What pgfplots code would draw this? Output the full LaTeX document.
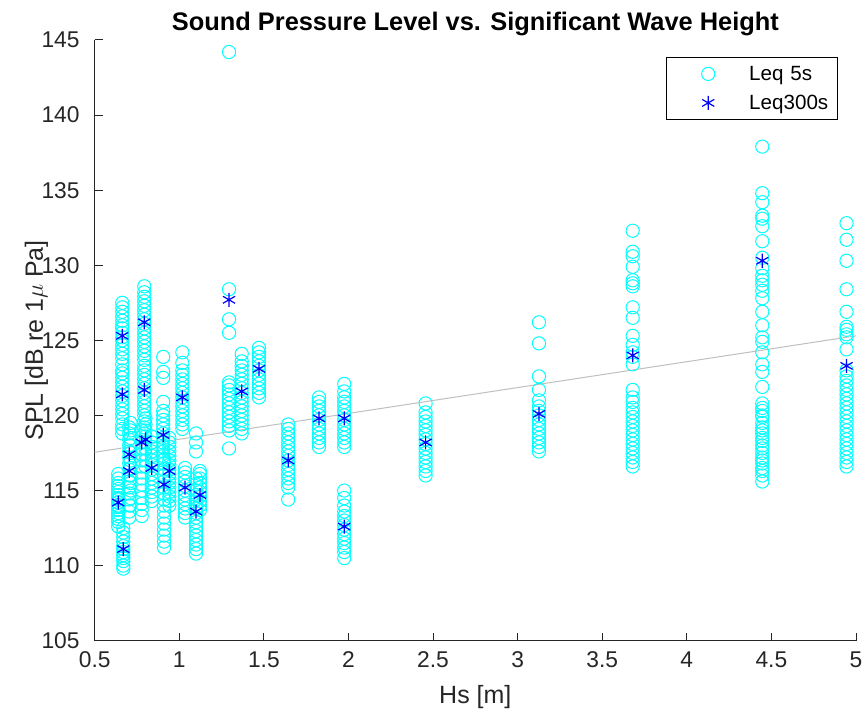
\documentclass[border=0pt]{standalone}
\usepackage{pgfplots}
\pgfplotsset{compat=1.18}
\usepackage{fontspec}
\setmainfont{Liberation Sans}
\definecolor{axgray}{rgb}{0.15,0.15,0.15}
\definecolor{trend}{rgb}{0.75,0.75,0.75}
\definecolor{mcyan}{rgb}{0,1,1}
\definecolor{mblue}{rgb}{0,0,1}
\begin{document}
\begin{tikzpicture}
\begin{axis}[
  name=ax,
  scale only axis, width=380.65pt, height=300.35pt,
  xmin=0.5, xmax=5, ymin=105, ymax=145,
  xtick={0.5,1,1.5,2,2.5,3,3.5,4,4.5,5},
  ytick={105,110,115,120,125,130,135,140,145},
  axis lines=left, axis line style={-, draw=axgray, line width=0.5pt},
  tick align=inside, major tick length=4pt,
  tick style={draw=axgray, line width=0.5pt},
  /pgf/number format/assume math mode=true,
  ticklabel style={font=\fontsize{11.4}{13}\selectfont, text=axgray},
  xticklabel style={anchor=base, yshift=-13.5pt, inner sep=0pt},
  yticklabel style={anchor=east, xshift=-7.35pt, inner sep=0pt},
  every axis title shift=0pt,
  title={Sound Pressure Level vs. Significant Wave Height},
  title style={at={(axis description cs:0.5,1.0166)}, anchor=base, font=\bfseries\fontsize{12.7}{15}\selectfont},
  xlabel={Hs [m]},
  xlabel style={at={(axis description cs:0.5,-0.104)}, anchor=base, font=\fontsize{12.5}{14}\selectfont, text=axgray},
  ylabel={SPL [dB re 1$\mu$ Pa]},
  ylabel style={at={(axis description cs:-0.068,0.5)}, anchor=base, font=\fontsize{12.5}{14}\selectfont, text=axgray},
  clip=false,
  legend style={at={(axis description cs:0.976,0.9717)}, anchor=north east, draw=black, line width=0.5pt, fill=white,
    inner xsep=0pt, inner ysep=3.3pt, row sep=4.7pt, column sep=0pt,
    font=\fontsize{10.3}{12}\selectfont,
    nodes={inner sep=0pt, text width=44pt, align=left, text height=8.4pt, text depth=1.4pt, anchor=center}},
  legend image code/.code={\path[draw=none,fill=none] (0pt,0pt) rectangle (41.5pt,0pt); \draw[#1,only marks] plot coordinates {(21pt,0pt)};},
]
\addplot[trend, line width=0.5pt, forget plot] coordinates {(0.5,117.55) (5,125.3)};
\addplot[only marks, mark=o, mark size=3.3pt, draw=mcyan, line width=0.5pt] table {
x y
0.639 112.6
0.639 112.9
0.639 113.1
0.639 113.3
0.639 113.5
0.639 113.7
0.639 113.9
0.639 114.0
0.639 114.2
0.639 114.4
0.639 114.5
0.639 114.7
0.639 114.9
0.639 115.1
0.639 115.3
0.639 115.5
0.639 115.8
0.639 116.1
0.663 123.0
0.663 123.4
0.663 123.8
0.663 124.1
0.663 124.4
0.663 124.7
0.663 125.0
0.663 125.2
0.663 125.5
0.663 125.8
0.663 126.0
0.663 126.3
0.663 126.6
0.663 126.9
0.663 127.2
0.663 127.5
0.663 118.8
0.663 119.1
0.663 119.4
0.663 119.8
0.663 120.1
0.663 120.4
0.663 120.7
0.663 121.0
0.663 121.3
0.663 121.6
0.663 121.9
0.663 122.2
0.663 122.5
0.663 122.8
0.669 109.8
0.669 110.0
0.669 110.3
0.669 110.5
0.669 110.7
0.669 110.9
0.669 111.1
0.669 111.3
0.669 111.6
0.669 111.9
0.669 112.2
0.669 112.5
0.704 113.2
0.704 113.6
0.704 114.0
0.704 114.4
0.704 114.8
0.704 115.2
0.704 115.6
0.704 116.0
0.704 116.4
0.704 116.8
0.704 117.2
0.704 117.6
0.704 118.0
0.704 118.4
0.704 118.8
0.704 119.2
0.712 114.0
0.712 114.5
0.712 115.0
0.712 115.5
0.712 116.0
0.712 116.5
0.712 117.0
0.712 117.5
0.712 118.0
0.712 118.5
0.712 119.0
0.712 119.5
0.793 124.0
0.793 124.3
0.793 124.6
0.793 124.9
0.793 125.2
0.793 125.5
0.793 125.8
0.793 126.1
0.793 126.4
0.793 126.7
0.793 127.0
0.793 127.3
0.793 127.6
0.793 127.9
0.793 128.2
0.793 128.6
0.793 118.8
0.793 119.2
0.793 119.6
0.793 120.0
0.793 120.3
0.793 120.6
0.793 120.9
0.793 121.2
0.793 121.5
0.793 121.8
0.793 122.1
0.793 122.4
0.793 122.7
0.793 123.0
0.793 123.3
0.793 123.7
0.778 113.3
0.778 113.7
0.778 114.1
0.778 114.5
0.778 115.0
0.778 115.4
0.778 115.8
0.778 116.2
0.778 116.6
0.778 117.0
0.778 117.4
0.778 117.8
0.778 118.2
0.778 118.6
0.778 119.0
0.800 116.6
0.800 117.0
0.800 117.4
0.800 117.8
0.800 118.2
0.800 118.6
0.800 119.0
0.800 119.4
0.800 119.8
0.837 114.3
0.837 114.6
0.837 114.9
0.837 115.2
0.837 115.5
0.837 115.8
0.837 116.1
0.837 116.4
0.837 116.7
0.837 117.0
0.837 117.3
0.837 117.6
0.837 117.9
0.837 118.2
0.837 118.6
0.905 117.0
0.905 117.3
0.905 117.6
0.905 117.9
0.905 118.2
0.905 118.5
0.905 118.8
0.905 119.1
0.905 119.4
0.905 119.7
0.905 120.0
0.905 120.3
0.905 120.9
0.905 122.5
0.905 122.9
0.905 123.9
0.910 111.2
0.910 111.6
0.910 112.0
0.910 112.4
0.910 112.8
0.910 113.2
0.910 113.6
0.910 114.0
0.910 114.4
0.910 114.8
0.910 115.2
0.910 115.6
0.910 116.0
0.910 116.4
0.910 116.8
0.910 117.1
0.941 114.0
0.941 114.3
0.941 114.6
0.941 114.9
0.941 115.2
0.941 115.5
0.941 115.8
0.941 116.1
0.941 116.4
0.941 116.7
0.941 117.0
0.941 117.3
0.941 117.6
0.941 117.9
0.941 118.2
0.941 118.5
1.018 119.1
1.018 119.4
1.018 119.7
1.018 120.0
1.018 120.3
1.018 120.6
1.018 120.9
1.018 121.2
1.018 121.5
1.018 121.8
1.018 122.1
1.018 122.4
1.018 122.7
1.018 123.0
1.018 123.5
1.018 124.2
1.034 113.2
1.034 113.5
1.034 113.8
1.034 114.1
1.034 114.4
1.034 114.7
1.034 115.0
1.034 115.3
1.034 115.6
1.034 115.9
1.034 116.2
1.034 116.5
1.099 110.8
1.099 111.1
1.099 111.4
1.099 111.7
1.099 112.0
1.099 112.3
1.099 112.6
1.099 112.9
1.099 113.2
1.099 113.5
1.099 113.8
1.099 114.1
1.099 114.4
1.099 114.7
1.099 115.0
1.099 115.4
1.099 115.8
1.099 117.6
1.099 118.2
1.099 118.8
1.122 113.7
1.122 114.0
1.122 114.3
1.122 114.6
1.122 114.9
1.122 115.2
1.122 115.5
1.122 115.8
1.122 116.1
1.122 116.3
1.294 117.8
1.294 119.0
1.294 119.3
1.294 119.6
1.294 119.9
1.294 120.2
1.294 120.5
1.294 120.8
1.294 121.1
1.294 121.4
1.294 121.7
1.294 122.0
1.294 122.2
1.294 125.5
1.294 126.4
1.294 128.4
1.294 144.2
1.369 118.8
1.369 119.1
1.369 119.4
1.369 119.7
1.369 120.0
1.369 120.3
1.369 120.6
1.369 120.9
1.369 121.2
1.369 121.5
1.369 121.8
1.369 122.1
1.369 122.4
1.369 122.7
1.369 123.0
1.369 123.3
1.369 123.6
1.369 124.1
1.471 121.2
1.471 121.5
1.471 121.8
1.471 122.1
1.471 122.4
1.471 122.7
1.471 123.0
1.471 123.3
1.471 123.6
1.471 123.9
1.471 124.2
1.471 124.5
1.644 114.4
1.644 115.2
1.644 115.5
1.644 115.8
1.644 116.1
1.644 116.4
1.644 116.7
1.644 117.0
1.644 117.3
1.644 117.6
1.644 117.9
1.644 118.2
1.644 118.5
1.644 118.8
1.644 119.1
1.644 119.4
1.826 117.9
1.826 118.2
1.826 118.5
1.826 118.8
1.826 119.1
1.826 119.4
1.826 119.7
1.826 120.0
1.826 120.3
1.826 120.6
1.826 120.9
1.826 121.2
1.975 117.9
1.975 118.2
1.975 118.5
1.975 118.8
1.975 119.1
1.975 119.4
1.975 119.7
1.975 120.0
1.975 120.3
1.975 120.6
1.975 120.9
1.975 121.2
1.975 121.6
1.975 122.1
1.975 110.5
1.975 110.9
1.975 111.2
1.975 111.5
1.975 111.8
1.975 112.1
1.975 112.4
1.975 112.7
1.975 113.0
1.975 113.3
1.975 113.6
1.975 114.0
1.975 114.5
1.975 115.0
2.456 116.0
2.456 116.3
2.456 116.6
2.456 116.9
2.456 117.2
2.456 117.5
2.456 117.8
2.456 118.1
2.456 118.4
2.456 118.7
2.456 119.0
2.456 119.3
2.456 119.6
2.456 119.9
2.456 120.2
2.456 120.8
3.126 117.6
3.126 117.9
3.126 118.2
3.126 118.5
3.126 118.8
3.126 119.1
3.126 119.4
3.126 119.7
3.126 120.0
3.126 120.3
3.126 120.6
3.126 121.0
3.126 121.7
3.126 122.6
3.126 124.8
3.126 126.2
3.680 116.6
3.680 116.9
3.680 117.2
3.680 117.5
3.680 117.8
3.680 118.1
3.680 118.4
3.680 118.7
3.680 119.0
3.680 119.3
3.680 119.6
3.680 119.9
3.680 120.2
3.680 120.5
3.680 120.9
3.680 121.2
3.680 121.7
3.680 123.4
3.680 123.9
3.680 124.2
3.680 124.7
3.680 125.3
3.680 126.5
3.680 127.2
3.680 128.6
3.680 128.8
3.680 129.0
3.680 129.9
3.680 130.6
3.680 130.9
3.680 132.3
4.446 115.6
4.446 116.0
4.446 116.3
4.446 116.5
4.446 116.8
4.446 117.0
4.446 117.2
4.446 117.5
4.446 117.8
4.446 118.0
4.446 118.3
4.446 118.5
4.446 118.8
4.446 119.0
4.446 119.2
4.446 119.5
4.446 119.9
4.446 120.0
4.446 120.3
4.446 120.5
4.446 120.8
4.446 121.9
4.446 122.9
4.446 123.4
4.446 124.2
4.446 124.9
4.446 125.2
4.446 126.0
4.446 126.9
4.446 127.8
4.446 128.3
4.446 128.7
4.446 129.0
4.446 129.3
4.446 129.8
4.446 130.5
4.446 131.6
4.446 132.6
4.446 133.1
4.446 133.3
4.446 134.2
4.446 134.8
4.446 137.9
4.944 116.6
4.944 116.9
4.944 117.2
4.944 117.5
4.944 117.8
4.944 118.1
4.944 118.4
4.944 118.7
4.944 119.0
4.944 119.3
4.944 119.6
4.944 119.9
4.944 120.2
4.944 120.5
4.944 120.8
4.944 121.1
4.944 121.4
4.944 121.7
4.944 122.0
4.944 122.3
4.944 122.6
4.944 123.0
4.944 124.4
4.944 125.2
4.944 125.4
4.944 125.7
4.944 125.9
4.944 126.9
4.944 128.4
4.944 130.3
4.944 131.7
4.944 132.8
};
\addplot[only marks, mark=asterisk, mark size=3.5pt, draw=mblue, line width=0.6pt] table {
x y
0.639 114.2
0.663 125.3
0.663 121.4
0.669 111.1
0.704 117.4
0.704 116.3
0.778 118.2
0.793 126.2
0.793 121.7
0.800 118.4
0.837 116.5
0.905 118.7
0.910 115.4
0.941 116.3
1.018 121.2
1.034 115.2
1.099 113.6
1.122 114.7
1.294 127.7
1.369 121.6
1.471 123.1
1.644 117.0
1.826 119.8
1.975 119.8
1.975 112.6
2.456 118.2
3.126 120.1
3.680 124.0
4.446 130.3
4.944 123.3
};
\legend{Leq 5s, Leq300s}
\end{axis}
\pgfresetboundingbox
\path[use as bounding box] ([shift={(-47.35pt,-37.15pt)}]ax.south west) rectangle ([shift={(5pt,20pt)}]ax.north east);
\end{tikzpicture}
\end{document}
